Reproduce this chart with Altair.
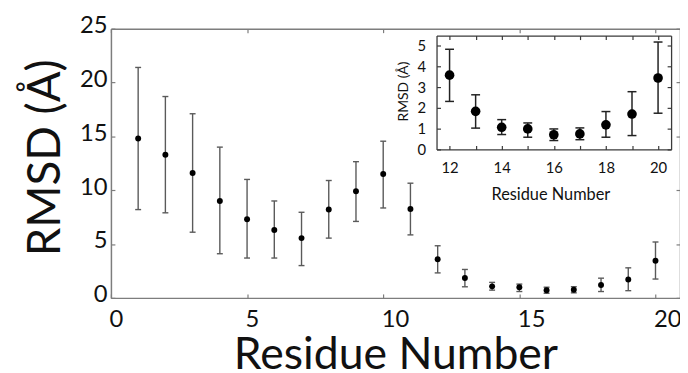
import altair as alt
import pandas as pd

# ---- data ----
residues = list(range(1, 21))
rmsd  = [14.8, 13.3, 11.6, 9.0, 7.3, 6.3, 5.55, 8.2, 9.9, 11.5, 8.25,
         3.59, 1.84, 1.07, 0.99, 0.71, 0.75, 1.19, 1.71, 3.45]
upper = [21.4, 18.7, 17.1, 14.0, 11.0, 9.0, 7.95, 10.9, 12.65, 14.55, 10.65,
         4.84, 2.64, 1.44, 1.28, 0.99, 1.04, 1.83, 2.79, 5.19]
lower = [8.2, 7.9, 6.1, 4.1, 3.7, 3.7, 3.0, 5.55, 7.1, 8.35, 5.85,
         2.32, 1.03, 0.72, 0.59, 0.43, 0.47, 0.59, 0.67, 1.75]

main_x_ticks = [0, 5, 10, 15, 20]
main_y_ticks = [0, 5, 10, 15, 20, 25]
inset_x_labels = [12, 14, 16, 18, 20]
inset_x_ticks = list(range(12, 21))
inset_y_ticks = [0, 1, 2, 3, 4, 5]

df = pd.DataFrame({"residue": residues, "rmsd": rmsd, "upper": upper, "lower": lower})

W, H = 575, 272
FONT = "Lato"
GRAY = "#7d7d7d"
DARK = "#3a3a3a"
TXT = "#111111"

IN_X = [329, 566]
IN_Y = [122, 7]


def xs_main():
    return alt.Scale(domain=[0, 20.9], nice=False, zero=False)


def ys_main():
    return alt.Scale(domain=[0, 25], nice=False, zero=False)


def xs_in():
    return alt.Scale(domain=[11.5, 20.5], range=IN_X, nice=False, zero=False)


def ys_in():
    return alt.Scale(domain=[0, 5.5], range=IN_Y, nice=False, zero=False)


# ---------------- main plot ----------------
x_ax_main = alt.Axis(orient="bottom", values=main_x_ticks, ticks=False, tickSize=0, grid=False,
                     domainColor=GRAY, domainWidth=1.5, labelFont=FONT, labelFontSize=24,
                     labelColor=TXT, labelPadding=10, labelAlign="left", labelOffset=-2,
                     labelBaseline="top", labelFlush=False, format="d",
                     title="Residue Number", titleFont=FONT, titleFontSize=45,
                     titleFontWeight="normal", titleColor=TXT, titleY=71,
                     titleBaseline="alphabetic")
y_ax_main = alt.Axis(orient="left", values=main_y_ticks, ticks=False, tickSize=0, grid=False,
                     domainColor=GRAY, domainWidth=1.5, labelFont=FONT, labelFontSize=24,
                     labelColor=TXT, labelPadding=4, labelOffset=-3, labelBaseline="middle",
                     labelAlign="right", format="d",
                     title="RMSD (Å)", titleFont=FONT, titleFontSize=46,
                     titleFontWeight="normal", titleColor=TXT, titleAngle=270,
                     titleX=-52, titleY=130, titleAlign="center", titleBaseline="alphabetic")

mx = alt.X("residue:Q", scale=xs_main(), axis=x_ax_main)
mbase = alt.Chart(df)
m_bars = mbase.mark_rule(color="#5a5a5a", strokeWidth=1.4).encode(
    x=mx, y=alt.Y("lower:Q", scale=ys_main(), axis=y_ax_main), y2="upper:Q")
m_capu = mbase.mark_rule(color="#5a5a5a", strokeWidth=1.4, xOffset=-3, x2Offset=3).encode(
    x=mx, x2="residue:Q", y=alt.Y("upper:Q", scale=ys_main(), axis=y_ax_main))
m_capl = mbase.mark_rule(color="#5a5a5a", strokeWidth=1.4, xOffset=-3, x2Offset=3).encode(
    x=mx, x2="residue:Q", y=alt.Y("lower:Q", scale=ys_main(), axis=y_ax_main))
m_pts = mbase.mark_circle(color="black", opacity=1, size=36).encode(
    x=mx, y=alt.Y("rmsd:Q", scale=ys_main(), axis=y_ax_main))
main_data = alt.layer(m_bars, m_capu, m_capl, m_pts)

# inward ticks on bottom and left
main_f1 = alt.Chart(df).mark_point(opacity=0).encode(
    x=alt.X("residue:Q", scale=xs_main(),
            axis=alt.Axis(orient="top", offset=-H, values=main_x_ticks, domain=False,
                          labels=False, ticks=True, tickSize=4, tickColor=GRAY,
                          tickWidth=1.2, grid=False, title="")),
    y=alt.Y("rmsd:Q", scale=ys_main(),
            axis=alt.Axis(orient="right", offset=-W, values=main_y_ticks, domain=False,
                          labels=False, ticks=True, tickSize=4, tickColor=GRAY,
                          tickWidth=1.2, grid=False, title="")))
# top and right frame with inward ticks
main_f2 = alt.Chart(df).mark_point(opacity=0).encode(
    x=alt.X("residue:Q", scale=xs_main(),
            axis=alt.Axis(orient="bottom", offset=-H, values=main_x_ticks, domain=True,
                          domainColor=GRAY, domainWidth=1.5, labels=False, ticks=True,
                          tickSize=4, tickColor=GRAY, tickWidth=1.2, grid=False, title="")),
    y=alt.Y("rmsd:Q", scale=ys_main(),
            axis=alt.Axis(orient="left", offset=-W, values=main_y_ticks, domain=True,
                          domainColor=GRAY, domainWidth=1.5, labels=False, ticks=True,
                          tickSize=4, tickColor=GRAY, tickWidth=1.2, grid=False, title="")))

# ---------------- inset ----------------
x_ax_in = alt.Axis(orient="bottom", offset=IN_Y[0] - H, values=inset_x_labels, ticks=False,
                   tickSize=0, grid=False, domainColor=DARK, domainWidth=1.3, labelFont=FONT,
                   labelFontSize=15, labelColor=TXT, labelPadding=11, labelBaseline="top",
                   labelFlush=False, format="d",
                   title="Residue Number", titleFont=FONT, titleFontSize=16.5,
                   titleFontWeight="normal", titleColor=TXT, titleX=444, titleY=51,
                   titleBaseline="alphabetic", titleAlign="center")
y_ax_in = alt.Axis(orient="left", offset=-IN_X[0], values=inset_y_ticks, ticks=False,
                   tickSize=0, grid=False, domainColor=DARK, domainWidth=1.3, labelFont=FONT,
                   labelFontSize=15, labelColor=TXT, labelPadding=11, labelBaseline="middle",
                   labelAlign="right", labelFlush=True, format="d",
                   title="RMSD (Å)", titleFont=FONT, titleFontSize=14,
                   titleFontWeight="normal", titleColor=TXT, titleAngle=270,
                   titleX=-29, titleY=63, titleAlign="center", titleBaseline="alphabetic")

ibase = alt.Chart(df).transform_filter("datum.residue >= 12")
ix = alt.X("residue:Q", scale=xs_in(), axis=x_ax_in)
i_bars = ibase.mark_rule(color="#222222", strokeWidth=1.5).encode(
    x=ix, y=alt.Y("lower:Q", scale=ys_in(), axis=y_ax_in), y2="upper:Q")
i_capu = ibase.mark_rule(color="#222222", strokeWidth=1.5, xOffset=-4.5, x2Offset=4.5).encode(
    x=ix, x2="residue:Q", y=alt.Y("upper:Q", scale=ys_in(), axis=y_ax_in))
i_capl = ibase.mark_rule(color="#222222", strokeWidth=1.5, xOffset=-4.5, x2Offset=4.5).encode(
    x=ix, x2="residue:Q", y=alt.Y("lower:Q", scale=ys_in(), axis=y_ax_in))
i_pts = ibase.mark_circle(color="black", opacity=1, size=95).encode(
    x=ix, y=alt.Y("rmsd:Q", scale=ys_in(), axis=y_ax_in))
inset_data = alt.layer(i_bars, i_capu, i_capl, i_pts)

inset_f1 = ibase.mark_point(opacity=0).encode(
    x=alt.X("residue:Q", scale=xs_in(),
            axis=alt.Axis(orient="top", offset=-IN_Y[0], values=inset_x_ticks, domain=False,
                          labels=False, ticks=True, tickSize=4, tickColor=DARK,
                          tickWidth=1.2, grid=False, title="")),
    y=alt.Y("rmsd:Q", scale=ys_in(),
            axis=alt.Axis(orient="right", offset=IN_X[0] - W, values=inset_y_ticks,
                          domain=False, labels=False, ticks=True, tickSize=4, tickColor=DARK,
                          tickWidth=1.2, grid=False, title="")))
inset_f2 = ibase.mark_point(opacity=0).encode(
    x=alt.X("residue:Q", scale=xs_in(),
            axis=alt.Axis(orient="bottom", offset=IN_Y[1] - H, values=inset_x_ticks,
                          domain=True, domainColor=DARK, domainWidth=1.3, labels=False,
                          ticks=True, tickSize=4, tickColor=DARK, tickWidth=1.2, grid=False,
                          title="")),
    y=alt.Y("rmsd:Q", scale=ys_in(),
            axis=alt.Axis(orient="left", offset=-IN_X[1], values=inset_y_ticks, domain=True,
                          domainColor=DARK, domainWidth=1.3, labels=False, ticks=True,
                          tickSize=4, tickColor=DARK, tickWidth=1.2, grid=False, title="")))

chart = (
    alt.layer(main_data, main_f1, main_f2, inset_data, inset_f1, inset_f2)
    .resolve_scale(x="independent", y="independent")
    .properties(width=W, height=H, autosize=alt.AutoSizeParams(type="none"),
                padding={"left": 104, "top": 19, "right": 0, "bottom": 74})
    .configure_view(stroke=None)
)

chart.save("out.html", embed_options={"renderer": "svg", "actions": False})
